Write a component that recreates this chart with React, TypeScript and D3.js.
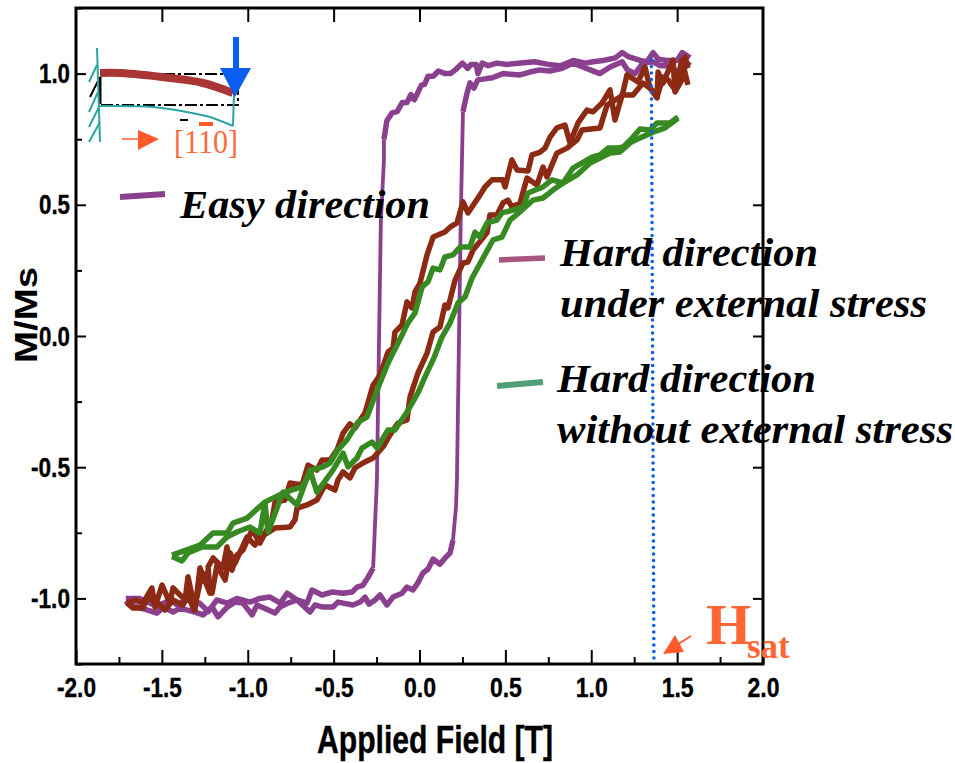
// App.tsx
import React, { useEffect, useRef } from 'react';
import * as d3 from 'd3';

type Pt = [number, number];

const xTicks = [-2, -1.5, -1, -0.5, 0, 0.5, 1, 1.5, 2];
const xMinorTicks = [-1.75, -1.25, -0.75, -0.25, 0.25, 0.75, 1.25, 1.75];
const yTicks = [-1, -0.5, 0, 0.5, 1];
const yMinorTicks = [-1.25, -0.75, -0.25, 0.25, 0.75, 1.25];
const hSat = 1.36;

const easyDown: Pt[] = [[1.575,1.06],[1.53,1.08],[1.5,1.05],[1.44,1.05],[1.39,1.055],[1.36,1.08],[1.325,1.045],[1.285,1.05],[1.215,1.065],[1.18,1.08],[1.14,1.06],[1.07,1.05],[1.01,1.045],[0.965,1.04],[0.895,1.05],[0.86,1.04],[0.82,1.03],[0.75,1.035],[0.67,1.045],[0.59,1.04],[0.51,1.035],[0.45,1.04],[0.4,1.03],[0.365,1.04],[0.34,1.0],[0.33,1.035],[0.3,1.035],[0.28,1.02],[0.25,1.04],[0.21,1.015],[0.18,1.0],[0.15,1.0],[0.11,1.01],[0.08,0.99],[0.05,0.99],[0.03,0.96],[0.01,0.955],[-0.03,0.9],[-0.05,0.92],[-0.073,0.89],[-0.1,0.89],[-0.13,0.855],[-0.16,0.85],[-0.19,0.82],[-0.207,0.75],[-0.207,0.67],[-0.225,0.44],[-0.248,-0.55],[-0.27,-0.885],[-0.3,-0.92],[-0.33,-0.95],[-0.364,-0.957],[-0.393,-0.976],[-0.445,-0.98],[-0.51,-0.976],[-0.568,-0.987],[-0.626,-0.968],[-0.655,-1.018],[-0.713,-1.006],[-0.77,-0.98],[-0.81,-1.018],[-0.87,-0.995],[-0.93,-1.0],[-0.987,-1.014],[-1.063,-1.0],[-1.12,-1.018],[-1.18,-1.006],[-1.23,-1.05],[-1.28,-1.018],[-1.354,-1.006],[-1.41,-1.025],[-1.45,-1.006],[-1.53,-1.03],[-1.63,-1.0],[-1.685,-1.0],[-1.71,-1.0]];

const easyUp: Pt[] = [[-1.71,-1.01],[-1.7,-1.018],[-1.656,-1.03],[-1.587,-1.044],[-1.53,-1.056],[-1.49,-1.033],[-1.435,-1.052],[-1.394,-1.037],[-1.307,-1.052],[-1.26,-1.063],[-1.208,-1.033],[-1.173,-1.07],[-1.12,-1.033],[-1.074,-1.014],[-1.028,-1.018],[-0.975,-1.063],[-0.946,-1.025],[-0.841,-1.056],[-0.812,-1.033],[-0.766,-1.018],[-0.713,-1.006],[-0.638,-1.052],[-0.608,-1.025],[-0.562,-1.033],[-0.504,-1.033],[-0.475,-1.014],[-0.445,-1.018],[-0.387,-1.025],[-0.346,-1.014],[-0.317,-0.995],[-0.294,-1.022],[-0.259,-1.006],[-0.23,-0.987],[-0.19,-1.025],[-0.154,-0.995],[-0.102,-0.98],[-0.073,-0.957],[-0.038,-0.968],[-0.009,-0.94],[0.02,-0.903],[0.05,-0.888],[0.079,-0.85],[0.119,-0.87],[0.154,-0.842],[0.178,-0.827],[0.195,-0.778],[0.2125,-0.652],[0.218,-0.549],[0.24,0.44],[0.253,0.855],[0.277,0.926],[0.294,0.965],[0.317,0.945],[0.34,0.976],[0.38,0.98],[0.41,0.983],[0.42,0.983],[0.486,1.0],[0.585,0.995],[0.643,1.006],[0.7,1.014],[0.76,1.01],[0.83,1.02],[0.895,1.04],[0.95,1.025],[0.99,1.015],[1.05,1.0],[1.11,1.025],[1.18,1.045],[1.21,1.015],[1.255,1.0],[1.3,1.04],[1.36,1.045],[1.4,1.03],[1.44,1.03],[1.5,1.01],[1.53,1.005],[1.56,1.04],[1.575,1.03]];

const stressDown: Pt[] = [[1.563,1.021],[1.546,1.063],[1.528,0.976],[1.488,0.93],[1.476,1.052],[1.418,0.964],[1.389,1.006],[1.383,0.907],[1.342,0.945],[1.313,1.025],[1.272,0.968],[1.208,0.995],[1.185,0.93],[1.138,0.823],[1.109,0.938],[1.063,0.888],[1.01,0.854],[0.975,0.861],[0.923,0.812],[0.876,0.736],[0.847,0.804],[0.8,0.793],[0.76,0.758],[0.731,0.716],[0.7,0.7],[0.655,0.69],[0.632,0.629],[0.568,0.633],[0.538,0.671],[0.498,0.568],[0.486,0.595],[0.422,0.595],[0.381,0.568],[0.352,0.537],[0.282,0.469],[0.253,0.511],[0.218,0.431],[0.178,0.415],[0.148,0.396],[0.079,0.377],[0.044,0.309],[0.003,0.202],[-0.026,0.168],[-0.044,0.107],[-0.073,0.13],[-0.102,0.042],[-0.143,0.015],[-0.154,-0.046],[-0.183,-0.061],[-0.23,-0.149],[-0.27,-0.187],[-0.317,-0.293],[-0.376,-0.351],[-0.405,-0.335],[-0.445,-0.37],[-0.48,-0.434],[-0.521,-0.473],[-0.568,-0.473],[-0.597,-0.511],[-0.649,-0.492],[-0.684,-0.568],[-0.754,-0.56],[-0.783,-0.625],[-0.841,-0.633],[-0.859,-0.701],[-0.929,-0.789],[-0.975,-0.739],[-1.028,-0.816],[-1.063,-0.835],[-1.092,-0.892],[-1.121,-0.804],[-1.144,-0.884],[-1.202,-0.846],[-1.231,-0.88],[-1.22,-0.98],[-1.278,-0.884],[-1.307,-1.044],[-1.348,-0.918],[-1.365,-1.006],[-1.435,-0.96],[-1.453,-1.018],[-1.499,-0.949],[-1.54,-1.033],[-1.558,-0.96],[-1.61,-1.018],[-1.656,-1.006],[-1.703,-1.018]];

const stressUp: Pt[] = [[-1.703,-1.018],[-1.668,-1.037],[-1.61,-1.037],[-1.587,-0.998],[-1.528,-1.014],[-1.482,-1.044],[-1.435,-1.006],[-1.377,-1.025],[-1.348,-0.987],[-1.313,-1.044],[-1.278,-0.941],[-1.237,-0.903],[-1.208,-0.98],[-1.179,-0.873],[-1.132,-0.93],[-1.103,-0.827],[-1.074,-0.865],[-1.004,-0.766],[-0.958,-0.797],[-0.929,-0.766],[-0.888,-0.751],[-0.841,-0.732],[-0.754,-0.728],[-0.725,-0.701],[-0.713,-0.656],[-0.655,-0.644],[-0.597,-0.625],[-0.55,-0.568],[-0.492,-0.587],[-0.475,-0.549],[-0.445,-0.518],[-0.405,-0.541],[-0.376,-0.503],[-0.329,-0.484],[-0.27,-0.465],[-0.213,-0.423],[-0.172,-0.377],[-0.125,-0.332],[-0.073,-0.32],[-0.055,-0.232],[-0.009,-0.141],[0.044,-0.065],[0.079,0.015],[0.119,0.034],[0.148,0.118],[0.166,0.107],[0.207,0.213],[0.253,0.278],[0.282,0.282],[0.312,0.328],[0.393,0.393],[0.41,0.461],[0.451,0.461],[0.486,0.507],[0.515,0.518],[0.538,0.492],[0.585,0.507],[0.626,0.602],[0.684,0.575],[0.719,0.644],[0.742,0.606],[0.771,0.652],[0.8,0.697],[0.859,0.716],[0.917,0.747],[0.946,0.785],[1.051,0.793],[1.092,0.88],[1.185,0.918],[1.243,0.918],[1.301,0.964],[1.354,0.938],[1.383,0.911],[1.418,0.987],[1.447,0.976],[1.488,0.938],[1.528,1.052],[1.563,0.957]];

const plainDown: Pt[] = [[1.505,0.835],[1.459,0.812],[1.383,0.812],[1.342,0.785],[1.284,0.789],[1.243,0.758],[1.185,0.72],[1.15,0.716],[1.098,0.716],[1.051,0.69],[1.004,0.682],[0.894,0.64],[0.836,0.583],[0.771,0.595],[0.719,0.568],[0.632,0.545],[0.603,0.492],[0.544,0.48],[0.48,0.469],[0.451,0.442],[0.393,0.431],[0.352,0.377],[0.323,0.396],[0.294,0.339],[0.236,0.339],[0.195,0.309],[0.148,0.301],[0.119,0.252],[0.079,0.259],[0.049,0.206],[0.015,0.187],[-0.026,0.088],[-0.067,0.05],[-0.125,-0.027],[-0.183,-0.103],[-0.242,-0.198],[-0.306,-0.309],[-0.358,-0.328],[-0.422,-0.396],[-0.475,-0.434],[-0.521,-0.484],[-0.562,-0.499],[-0.626,-0.511],[-0.684,-0.575],[-0.783,-0.595],[-0.9,-0.633],[-0.94,-0.656],[-1.004,-0.694],[-1.086,-0.713],[-1.121,-0.751],[-1.202,-0.751],[-1.278,-0.797],[-1.441,-0.835]];

const plainUp: Pt[] = [[-1.441,-0.84],[-1.383,-0.857],[-1.348,-0.827],[-1.266,-0.804],[-1.179,-0.804],[-1.121,-0.766],[-1.063,-0.747],[-0.987,-0.728],[-0.929,-0.751],[-0.9,-0.636],[-0.882,-0.747],[-0.795,-0.595],[-0.713,-0.644],[-0.638,-0.511],[-0.597,-0.595],[-0.504,-0.511],[-0.445,-0.446],[-0.416,-0.499],[-0.364,-0.465],[-0.335,-0.427],[-0.277,-0.404],[-0.247,-0.427],[-0.183,-0.358],[-0.143,-0.358],[-0.073,-0.29],[-0.009,-0.217],[0.032,-0.156],[0.079,-0.091],[0.131,-0.004],[0.178,0.05],[0.224,0.126],[0.265,0.149],[0.306,0.221],[0.37,0.297],[0.428,0.366],[0.48,0.377],[0.527,0.442],[0.597,0.48],[0.661,0.518],[0.719,0.526],[0.777,0.556],[0.836,0.583],[0.917,0.614],[0.993,0.659],[1.051,0.678],[1.109,0.697],[1.167,0.701],[1.226,0.736],[1.284,0.755],[1.36,0.777],[1.43,0.793],[1.505,0.83]];

const PURPLE = '#8b3f8f';
const RED = '#8c2a14';
const GREEN = '#378a22';
const BLUE = '#0a5ff0';
const ORANGE = '#ff5a2c';
const TEAL = '#2aa5a0';
const SANS = '"Liberation Sans", Arial, sans-serif';
const SERIF = '"Liberation Serif", "Times New Roman", serif';

const App = () => {
  const svgRef = useRef<SVGSVGElement>(null);

  useEffect(() => {
    const svg = d3.select(svgRef.current);
    svg.selectAll('*').remove();

    const x = d3.scaleLinear().domain([-2, 2]).range([76, 763]);
    const y = d3.scaleLinear().domain([-1.25, 1.25]).range([664, 8]);
    const line = d3.line<Pt>().x(d => x(d[0])).y(d => y(d[1]));
    const pxLine = d3.line<Pt>();
    const pxCurve = d3.line<Pt>().curve(d3.curveCatmullRom);

    // loops
    const drawLoop = (pts: Pt[], color: string, w: number) => {
      svg.append('path')
        .attr('d', line(pts))
        .attr('fill', 'none')
        .attr('stroke', color)
        .attr('stroke-width', w)
        .attr('stroke-linejoin', 'round');
    };
    // the switching jumps of the easy loop are printed thinner than its plateaus
    const isJump = (a: Pt, b: Pt) => Math.abs(b[1] - a[1]) > 0.075;
    const drawEasy = (pts: Pt[]) => {
      let run: Pt[] = [pts[0]];
      let jump: Pt[] = [];
      d3.pairs(pts).forEach(([a, b]) => {
        if (isJump(a, b)) {
          if (!jump.length) {
            drawLoop(run, PURPLE, 5.5);
            jump = [a];
          }
          jump.push(b);
          run = [b];
        } else {
          if (jump.length) {
            drawLoop(jump, PURPLE, 3.8);
            jump = [];
          }
          run.push(b);
        }
      });
      drawLoop(run, PURPLE, 5.5);
    };
    drawEasy(easyDown);
    drawEasy(easyUp);
    drawLoop(stressDown, RED, 5.5);
    drawLoop(stressUp, RED, 5.5);
    drawLoop(plainDown, GREEN, 5.5);
    drawLoop(plainUp, GREEN, 5.5);

    // saturation field marker
    svg.append('line')
      .attr('x1', x(hSat - 0.01)).attr('x2', x(hSat + 0.005))
      .attr('y1', 60).attr('y2', y(-1.25))
      .attr('stroke', BLUE)
      .attr('stroke-width', 3.6)
      .attr('stroke-linecap', 'round')
      .attr('stroke-dasharray', '0 6.5');

    // axes, ticks point inward
    const noLabel = () => '';
    const axisGroup = (axis: any, tx: number, ty: number) => {
      const g = svg.append('g').attr('transform', `translate(${tx},${ty})`).call(axis);
      g.selectAll('.domain').remove();
      g.selectAll('line').attr('stroke', '#000').attr('stroke-width', 2);
      return g;
    };
    const tickText = (d: any) => d.toFixed(1);
    const bottom = axisGroup(d3.axisBottom(x).tickValues(xTicks).tickSize(-14).tickFormat(tickText), 0, 664);
    bottom.selectAll('text')
      .attr('font-family', SANS).attr('font-weight', 700).attr('font-size', 28).attr('fill', '#000')
      .attr('stroke', '#000').attr('stroke-width', 0.4)
      .attr('y', 33).attr('dy', 0)
      .attr('textLength', (d: any) => (d < 0 ? 39 : 32))
      .attr('lengthAdjust', 'spacingAndGlyphs');
    axisGroup(d3.axisBottom(x).tickValues(xMinorTicks).tickSize(-7).tickFormat(noLabel), 0, 664);
    axisGroup(d3.axisTop(x).tickValues(xTicks.slice(1, -1)).tickSize(-14).tickFormat(noLabel), 0, 8);

    const left = axisGroup(d3.axisLeft(y).tickValues(yTicks).tickSize(-10).tickFormat(tickText), 76, 0);
    left.selectAll('text')
      .attr('font-family', SANS).attr('font-weight', 700).attr('font-size', 28).attr('fill', '#000')
      .attr('stroke', '#000').attr('stroke-width', 0.4)
      .attr('x', -6).attr('dy', 9)
      .attr('textLength', (d: any) => (d < 0 ? 39 : 31))
      .attr('lengthAdjust', 'spacingAndGlyphs');
    axisGroup(d3.axisLeft(y).tickValues(yMinorTicks).tickSize(-6).tickFormat(noLabel), 76, 0);
    axisGroup(d3.axisRight(y).tickValues(yTicks).tickSize(-10).tickFormat(noLabel), 763, 0);

    // frame
    svg.append('rect')
      .attr('x', 76).attr('y', 8).attr('width', 687).attr('height', 656)
      .attr('fill', 'none').attr('stroke', '#000').attr('stroke-width', 3);

    // axis titles
    svg.append('text')
      .attr('x', 317).attr('y', 753)
      .attr('font-family', SANS).attr('font-weight', 700).attr('font-size', 38)
      .attr('stroke', '#000').attr('stroke-width', 0.4)
      .attr('textLength', 236).attr('lengthAdjust', 'spacingAndGlyphs')
      .text('Applied Field [T]');
    svg.append('text')
      .attr('transform', 'translate(37,363) rotate(-90)')
      .attr('font-family', SANS).attr('font-weight', 700).attr('font-size', 32)
      .attr('textLength', 96).attr('lengthAdjust', 'spacingAndGlyphs')
      .text('M/Ms');

    // legend stubs and labels
    const stubs: [Pt[], string, number][] = [
      [[[120, 197], [165, 194]], PURPLE, 6],
      [[[499, 260], [545, 258]], '#a8557f', 5.5],
      [[[497, 386], [543, 382]], '#4f9f77', 6],
    ];
    stubs.forEach(([pts, color, w]) => {
      svg.append('path').attr('d', pxLine(pts)).attr('fill', 'none').attr('stroke', color).attr('stroke-width', w);
    });
    const labels: [string, number, number, number][] = [
      ['Easy direction', 180, 218, 250],
      ['Hard direction', 560, 266, 258],
      ['under external stress', 560, 317, 367],
      ['Hard direction', 557, 392, 259],
      ['without external stress', 557, 443, 396],
    ];
    labels.forEach(([label, lx, ly, len]) => {
      svg.append('text')
        .attr('x', lx).attr('y', ly)
        .attr('font-family', SERIF).attr('font-weight', 700).attr('font-style', 'italic').attr('font-size', 39)
        .attr('textLength', len).attr('lengthAdjust', 'spacingAndGlyphs')
        .attr('fill', '#000')
        .text(label);
    });

    // H_sat note
    svg.append('path').attr('d', pxLine([[691, 636], [675, 646]])).attr('stroke', ORANGE).attr('stroke-width', 2).attr('fill', 'none');
    svg.append('path').attr('d', pxLine([[663, 654], [684, 652], [675, 635]]) + 'Z').attr('fill', ORANGE);
    svg.append('text').attr('x', 706).attr('y', 644)
      .attr('font-family', SERIF).attr('font-weight', 700).attr('font-size', 58).attr('fill', '#ff6633')
      .text('H');
    svg.append('text').attr('x', 747).attr('y', 658)
      .attr('font-family', SERIF).attr('font-weight', 700).attr('font-size', 35).attr('fill', '#ff6633')
      .text('sat');

    // cantilever inset
    const inset = svg.append('g').attr('fill', 'none');
    inset.append('path').attr('d', pxLine([[100, 74], [238, 74], [238, 105], [100, 105]]))
      .attr('stroke', '#000').attr('stroke-width', 2).attr('stroke-dasharray', '12 3 3 3');
    inset.append('path').attr('d', pxLine([[100, 77], [100, 104]])).attr('stroke', '#000').attr('stroke-width', 3);
    inset.append('path').attr('d', pxLine([[100, 77], [90, 97]])).attr('stroke', '#000').attr('stroke-width', 2);
    const wall: [Pt, Pt][] = [
      [[97, 48], [100, 142]],
      [[97, 65], [89, 82]],
      [[98, 92], [89, 112]],
      [[99, 107], [89, 127]],
      [[100, 122], [89, 142]],
    ];
    wall.forEach(seg => {
      inset.append('path').attr('d', pxLine(seg)).attr('stroke', TEAL).attr('stroke-width', 2);
    });
    inset.append('path')
      .attr('d', pxCurve([[100, 106], [153, 107], [187, 112], [210, 117], [233, 126]]))
      .attr('stroke', TEAL).attr('stroke-width', 2);
    inset.append('path').attr('d', pxLine([[233, 126], [234, 93]])).attr('stroke', TEAL).attr('stroke-width', 2);
    inset.append('path')
      .attr('d', pxCurve([[100, 73], [120, 73], [170, 78], [203, 83], [233, 93]]))
      .attr('stroke', '#a93535').attr('stroke-width', 8);
    inset.append('path').attr('d', pxLine([[236, 37], [236, 70]])).attr('stroke', BLUE).attr('stroke-width', 6);
    inset.append('path').attr('d', pxLine([[220, 68], [251, 68], [235, 97]]) + 'Z').attr('fill', BLUE);
    inset.append('path').attr('d', pxLine([[180, 120], [188, 120]])).attr('stroke', '#000').attr('stroke-width', 2);
    inset.append('path').attr('d', pxLine([[199, 124], [213, 124]])).attr('stroke', ORANGE).attr('stroke-width', 4);
    inset.append('path').attr('d', pxLine([[122, 139], [140, 139]])).attr('stroke', ORANGE).attr('stroke-width', 1.5);
    inset.append('path').attr('d', pxLine([[138, 130], [138, 150], [159, 139]]) + 'Z').attr('fill', ORANGE);
    svg.append('text').attr('x', 174).attr('y', 153)
      .attr('font-family', SERIF).attr('font-size', 33).attr('fill', '#ff6a3c')
      .attr('textLength', 64).attr('lengthAdjust', 'spacingAndGlyphs')
      .text('[110]');
  }, []);

  return <svg ref={svgRef} width={955} height={763} style={{ position: 'absolute', left: 0, top: 0, background: '#fff' }} />;
};

export default App;
